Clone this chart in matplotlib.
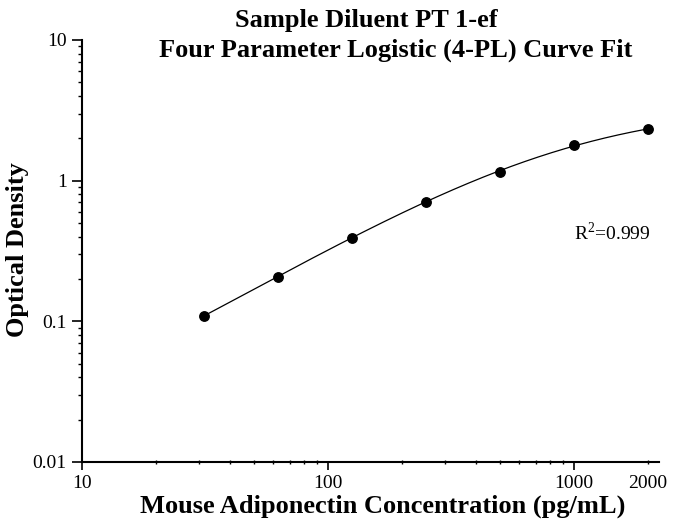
import numpy as np
import matplotlib
matplotlib.use("Agg")
import matplotlib.pyplot as plt
from matplotlib.ticker import LogLocator, NullFormatter

conc = [31.25, 62.5, 125, 250, 500, 1000, 2000]
od = [0.109, 0.208, 0.394, 0.709, 1.16, 1.80, 2.32]
title_1 = "Sample Diluent PT 1-ef"
title_2 = "Four Parameter Logistic (4-PL) Curve Fit"
x_ticks = [10, 100, 1000]
x_tick_labels = ["10", "100", "1000"]
x_minor = [20, 30, 40, 50, 60, 70, 80, 90, 200, 300, 400, 500, 600, 700, 800, 900, 2000]
x_minor_labels = [""] * 16 + ["2000"]
y_ticks = [0.01, 0.1, 1, 10]
y_tick_labels = ["0.01", "0.1", "1", "10"]
r2_text = "R$^2$=0.999"

plt.rcParams["font.family"] = ["Liberation Serif", "DejaVu Serif"]
plt.rcParams["mathtext.fontset"] = "custom"
plt.rcParams["mathtext.rm"] = "Liberation Serif"


def fit_4pl(x, y):
    # y = D + (A - D) / (1 + (x / C) ** B), brute force on A and D
    lx = np.log(x)
    best = None
    for a in np.linspace(0.0, 0.09, 46):
        for d in np.linspace(max(y) * 1.02, 8.0, 300):
            z = np.log((y - a) / (d - y))
            b, k = np.polyfit(lx, z, 1)
            c = np.exp(-k / b)
            pred = d + (a - d) / (1 + (x / c) ** b)
            err = np.sum((np.log(pred) - np.log(y)) ** 2)
            if best is None or err < best[0]:
                best = (err, a, b, c, d)
    return best[1:]


x = np.array(conc)
y = np.array(od)
a, b, c, d = fit_4pl(x, y)
xs = np.logspace(np.log10(x.min()), np.log10(x.max()), 300)
ys = d + (a - d) / (1 + (xs / c) ** b)

fig = plt.figure(figsize=(6.74, 5.28), dpi=100)
ax = fig.add_axes([82 / 674, 1 - 462 / 528, (659 - 82) / 674, (462 - 40) / 528])

ax.plot(xs, ys, color="black", lw=0.9)
ax.plot(x, y, "o", color="black", ms=6.8)

ax.set_xscale("log")
ax.set_yscale("log")
ax.set_xlim(10, 2215)
ax.set_ylim(0.01, 10)

ax.set_xticks(x_ticks, x_tick_labels)
ax.set_xticks(x_minor, x_minor_labels, minor=True)
ax.set_yticks(y_ticks, y_tick_labels)
ax.yaxis.set_minor_locator(LogLocator(base=10, subs=np.arange(2, 10)))
ax.yaxis.set_minor_formatter(NullFormatter())

ax.tick_params(axis="x", which="major", direction="out", length=6, width=1.2, labelsize=14, pad=3)
ax.tick_params(axis="x", which="minor", direction="inout", length=3, width=1.0, labelsize=14, pad=7.5)
ax.tick_params(axis="y", which="major", direction="out", length=7, width=1.2, labelsize=14, pad=4)
ax.tick_params(axis="y", which="minor", direction="out", length=3, width=1.0)

for side in ["top", "right"]:
    ax.spines[side].set_visible(False)
for side in ["left", "bottom"]:
    ax.spines[side].set_linewidth(1.5)

fig.text(383 / 674, 1 - 506 / 528, "Mouse Adiponectin Concentration (pg/mL)",
         ha="center", va="center", fontsize=19, fontweight="bold")
fig.text(18 / 674, 1 - 250 / 528, "Optical Density", rotation=90,
         ha="center", va="center", fontsize=19, fontweight="bold")

fig.text(366 / 674, 1 - 21 / 528, title_1, ha="center", va="center", fontsize=19, fontweight="bold")
fig.text(396 / 674, 1 - 50 / 528, title_2, ha="center", va="center", fontsize=19, fontweight="bold")
fig.text(612 / 674, 1 - 233 / 528, r2_text, ha="center", va="center", fontsize=14)

fig.savefig("out.png", dpi=100)
